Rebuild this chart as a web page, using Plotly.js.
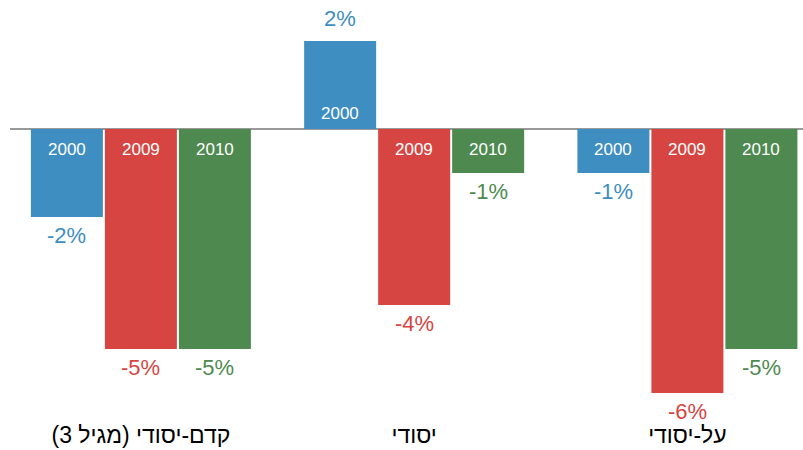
<!DOCTYPE html>
<html>
<head>
<meta charset="utf-8">
<script src="https://cdn.plot.ly/plotly-3.0.1.min.js"></script>
<style>html,body{margin:0;padding:0;background:#fff;}#chart{width:803px;height:450px;}</style>
</head>
<body>
<div id="chart"></div>
<script>
const categories = ["\u200Fקדם-יסודי (מגיל 3)\u200F", "\u200Fיסודי\u200F", "\u200Fעל-יסודי\u200F"];
const years = ["2000", "2009", "2010"];
const values2000 = [-2, 2, -1];
const values2009 = [-5, -4, -6];
const values2010 = [-5, -1, -5];
const colors = ["#3e8ec1", "#d64541", "#4e8a4f"];

const series = [values2000, values2009, values2010];
const BARGAP = 0.1876;
const slot = (1 - BARGAP) / series.length;
const font = "Liberation Sans, Arial, sans-serif";

const traces = series.map((vals, i) => ({
  type: "bar",
  name: years[i],
  x: categories,
  y: vals,
  marker: {color: colors[i]},
  hoverinfo: "none"
}));

const annotations = [];
series.forEach((vals, i) => {
  vals.forEach((v, j) => {
    const xpos = j + (i - (series.length - 1) / 2) * slot;
    annotations.push({
      x: xpos, y: v, xref: "x", yref: "y",
      text: v + "%", showarrow: false,
      yanchor: "middle", yshift: v < 0 ? -18 : 23,
      font: {family: font, size: 22, color: colors[i]}
    });
    annotations.push({
      x: xpos, y: 0, xref: "x", yref: "y",
      text: years[i], showarrow: false,
      yanchor: "middle", yshift: v < 0 ? -20 : 16,
      font: {family: font, size: 17, color: "#ffffff"}
    });
  });
});

const layout = {
  width: 803, height: 450,
  margin: {l: 10, r: 0, t: 0, b: 40},
  paper_bgcolor: "#ffffff", plot_bgcolor: "#ffffff",
  barmode: "group", bargap: BARGAP, bargroupgap: 0.027,
  showlegend: false,
  font: {family: font},
  xaxis: {
    type: "category", range: [-0.479, 2.423],
    showgrid: false, zeroline: false, showline: false, ticks: "",
    tickfont: {family: font, size: 23, color: "#000000"},
    ticklabelstandoff: 9,
    fixedrange: true
  },
  yaxis: {
    range: [-6.386, 2.932],
    showgrid: false, showticklabels: false, ticks: "", showline: false,
    zeroline: true, zerolinecolor: "#999999", zerolinewidth: 2,
    fixedrange: true
  },
  annotations: annotations
};

Plotly.newPlot("chart", traces, layout, {displayModeBar: false, staticPlot: true});
</script>
</body>
</html>
